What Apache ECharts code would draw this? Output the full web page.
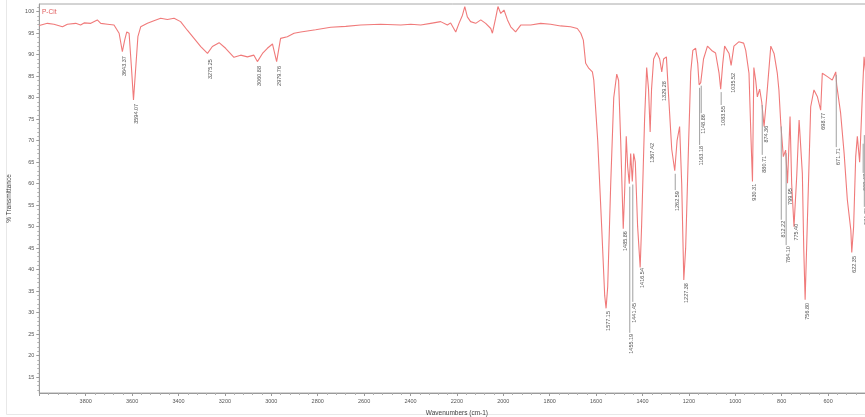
<!DOCTYPE html>
<html>
<head>
<meta charset="utf-8">
<script src="https://cdn.jsdelivr.net/npm/echarts@6/dist/echarts.min.js"></script>
<style>html,body{margin:0;padding:0;background:#fff}#c{width:865px;height:417px}</style>
</head>
<body>
<div id="c"></div>
<script>
// Wavenumbers (cm-1), descending
const wavenumbers = [4000,3994,3965,3937,3900,3879,3843,3822,3807,3778,3750,3735,3706,3678,3656,3642,3632,3623,3613,3603,3594,3584,3575,3563,3534,3506,3477,3448,3419,3391,3362,3333,3304,3275,3254,3225,3197,3161,3132,3103,3075,3060,3038,3017,2995,2977,2960,2931,2902,2873,2809,2744,2679,2615,2529,2442,2399,2356,2313,2270,2241,2227,2205,2191,2176,2166,2155,2141,2119,2097,2076,2054,2047,2033,2023,2011,1997,1982,1968,1947,1925,1882,1839,1796,1753,1710,1681,1666,1655,1645,1631,1616,1610,1593,1576,1563,1557,1550,1537,1524,1511,1503,1494,1483,1477,1470,1464,1457,1451,1444,1438,1431,1421,1410,1404,1391,1382,1374,1367,1361,1352,1339,1326,1317,1309,1297,1287,1274,1261,1251,1240,1231,1222,1214,1201,1192,1183,1171,1162,1156,1149,1137,1120,1102,1085,1070,1063,1054,1046,1027,1018,1006,985,964,955,941,932,926,920,912,905,895,886,876,865,847,833,819,812,804,793,783,775,764,757,747,735,725,711,705,699,690,675,661,646,632,625,603,582,567,563,546,531,517,502,498,490,481,474,464,452,445,438,430];
// % Transmittance
const transmittance = [96.8,96.9,97.3,97.1,96.5,97.1,97.3,96.9,97.4,97.3,98.1,97.3,97.1,96.9,95.0,90.7,93.4,95.3,95.0,87.2,79.5,87.2,94.2,96.5,97.3,97.9,98.5,98.2,98.5,97.7,95.7,93.8,91.9,90.3,91.9,92.8,91.5,89.4,89.9,89.5,89.9,88.4,90.3,91.5,92.5,88.4,93.8,94.2,95.0,95.3,95.8,96.4,96.6,96.9,97.1,96.9,97.1,96.9,97.3,97.7,96.9,97.4,95.3,97.3,99.2,101.2,98.8,97.7,97.3,98.1,97.3,96.1,95.0,98.5,101.2,99.6,100.4,98.1,96.5,95.3,96.9,96.9,97.3,97.1,96.7,96.5,96.1,95.0,93.4,88.0,86.8,86.0,84.1,70,50,34,31,36,60,80,85.5,84,70,49.5,58,71,64,60,67,60.5,67,65,50,40.5,50,75,87,82,72,82,89,90.5,89,86,89,89.5,80,68,63,70,73.3,60,37.6,45,70,86,91,91.5,88,83,83.5,89,92,91,90.4,85.7,82,88,92,90.3,87.5,92,93,92.7,91,85.7,70,60.5,87,84,80.2,82,79,73.3,80,92,90.3,85.7,81.8,74,66.3,67.8,60.1,75.6,60,50,62,74.8,62.4,45,33,50,77.9,81.8,80.2,77.1,85.7,84.9,84.1,86,83,76.4,67.1,56.2,49.2,44,50,66.3,71,65,81,89.5,85.7,84];

// Peak annotations
const peakWn     = [3642,3594,3275,3060,2977,1557,1483,1457,1444,1410,1367,1317,1261,1222,1156,1149,1063,1018,926,886,876,804,775,783,747,699,632,567,498,451,446];
const peakT      = [90.7,79.5,90.3,88.4,88.4,31,49.5,60,60.5,40.5,72,86,63,37.6,83,83.5,82,87.5,60.5,79,73.3,74,60.1,67.8,50,33,77.1,86,44,70,72];
const labelTopT  = [89.9,78.8,89.2,87.6,87.6,30.6,49.2,25.3,32.5,40.6,69.7,84.1,58.5,37.1,69.0,76.4,78.3,86.0,60.2,66.7,73.7,51.6,59.2,45.7,50.9,32.5,76.7,68.5,43.4,62.5,54.6];
const peakText   = ['3643.37','3594.07','3275.25','3060.88','2979.76','1577.15','1485.86','1455.19','1441.45','1416.54','1367.42','1329.28','1262.59','1227.38','1163.18','1148.86','1083.55','1035.52','930.31','880.71','874.36','812.22','799.95','784.10','775.40','756.80','698.77','671.71','622.35','609.47','581.20'];

const xMin = 400, xMax = 4000, xStep = 200;
const yMin = 11.3, yMax = 101.8;
const yMajor = [15,20,25,30,35,40,45,50,55,60,65,70,75,80,85,90,95,100];
const yMinor = [12,13,14,16,17,18,19,21,22,23,24,26,27,28,29,31,32,33,34,36,37,38,39,41,42,43,44,46,47,48,49,51,52,53,54,56,57,58,59,61,62,63,64,66,67,68,69,71,72,73,74,76,77,78,79,81,82,83,84,86,87,88,89,91,92,93,94,96,97,98,99,101];

const FONT = 'Liberation Sans, Arial, sans-serif';
const chart = echarts.init(document.getElementById('c'), null, {renderer: 'canvas'});

const lineData = wavenumbers.map((w, i) => [w, transmittance[i]]);
const peakData = peakWn.map((w, i) => [w, peakT[i], labelTopT[i], i]);

chart.setOption({
  animation: false,
  backgroundColor: '#fff',
  title: {
    text: 'P-Cit', left: 42, top: 9, padding: 0,
    textStyle: {fontSize: 6.5, color: '#e05a5a', fontWeight: 'normal', fontFamily: FONT}
  },
  graphic: [{
    type: 'rect', silent: true, z: -10,
    shape: {x: 6.5, y: -2, width: 900, height: 416.5},
    style: {fill: 'none', stroke: '#e8e8e8', lineWidth: 1}
  }],
  grid: {
    left: 39.3, width: 835.2, top: 4, height: 389,
    outerBoundsMode: 'none', containLabel: false,
    show: true, borderColor: '#a8a8a8', borderWidth: 1, backgroundColor: 'transparent'
  },
  xAxis: {
    type: 'value', min: xMin, max: xMax, interval: xStep, inverse: true,
    name: 'Wavenumbers (cm-1)', nameLocation: 'middle', nameGap: 17,
    nameTextStyle: {fontSize: 6.5, color: '#444', fontFamily: FONT},
    axisLine: {show: true, lineStyle: {color: '#9a9a9a', width: 1}},
    axisTick: {show: true, length: 3, lineStyle: {color: '#9a9a9a'}},
    minorTick: {show: true, splitNumber: 5, length: 2, lineStyle: {color: '#b0b0b0'}},
    axisLabel: {fontSize: 5.5, color: '#555', margin: 5, showMinLabel: false, showMaxLabel: false,
      fontFamily: FONT, formatter: v => String(v)},
    splitLine: {show: false}
  },
  yAxis: [{
    type: 'value', min: yMin, max: yMax, position: 'left',
    name: '% Transmittance', nameLocation: 'middle', nameGap: 27,
    nameTextStyle: {fontSize: 6.5, color: '#444', fontFamily: FONT},
    axisLine: {show: true, onZero: false, lineStyle: {color: '#9a9a9a', width: 1}},
    axisTick: {show: true, length: 3, customValues: yMajor, lineStyle: {color: '#9a9a9a'}},
    axisLabel: {fontSize: 5.5, color: '#555', margin: 5, customValues: yMajor, fontFamily: FONT},
    splitLine: {show: false}
  }, {
    type: 'value', min: yMin, max: yMax, position: 'left',
    axisLine: {show: false, onZero: false},
    axisTick: {show: true, length: 2, customValues: yMinor, lineStyle: {color: '#b0b0b0'}},
    axisLabel: {show: false, customValues: yMinor},
    splitLine: {show: false}
  }],
  series: [{
    type: 'line', data: lineData, showSymbol: false, symbol: 'none',
    lineStyle: {color: '#f07a7a', width: 1.1}, z: 3
  }, {
    type: 'custom', data: peakData, z: 4, clip: false,
    renderItem: function (params, api) {
      const p = api.coord([api.value(0), api.value(1)]);
      const q = api.coord([api.value(0), api.value(2)]);
      const children = [];
      if (q[1] - p[1] > 10) {
        children.push({type: 'line', shape: {x1: p[0] + 0.5, y1: p[1] + 3, x2: p[0] + 0.5, y2: q[1]},
          style: {stroke: '#a0a0a0', lineWidth: 1}});
      }
      children.push({type: 'text', x: p[0] + 2.5, y: q[1] + 1, rotation: Math.PI / 2,
        style: {text: peakText[api.value(3)], fontSize: 5.5, fill: '#555', align: 'right', verticalAlign: 'middle', fontFamily: FONT}});
      return {type: 'group', children: children};
    }
  }]
});
</script>
</body>
</html>
